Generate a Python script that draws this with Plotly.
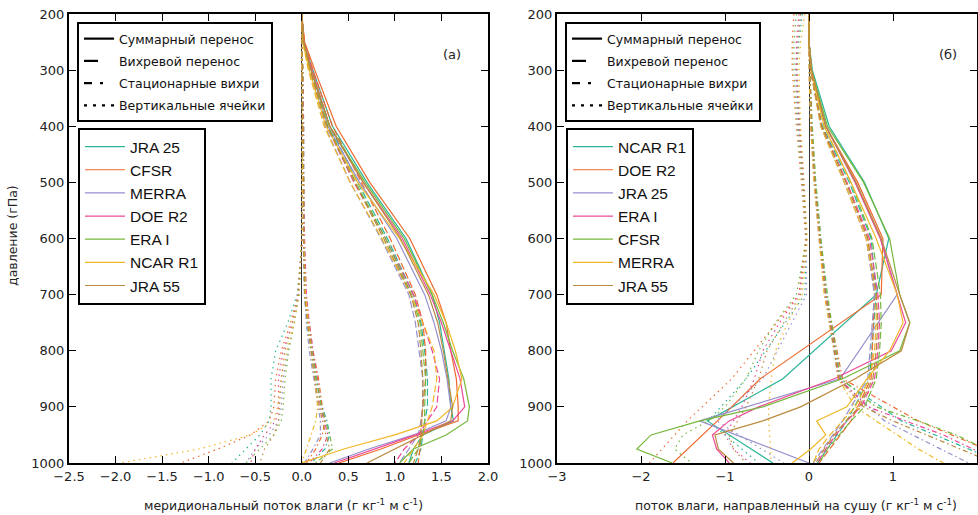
import plotly.graph_objects as go

# Pressure levels (hPa)
P_FINE = [200, 250, 300, 400, 500, 600, 700, 750, 800, 850, 900, 925, 950, 975, 1000]
P_STD = [200, 250, 300, 400, 500, 600, 700, 850, 925, 1000]

# ---------------- panel (а): meridional moisture flux ----------------
A_NAMES = ["JRA 25", "CFSR", "MERRA", "DOE R2", "ERA I", "NCAR R1", "JRA 55"]

A_TOTAL = {
    "JRA 25":  [0.0, 0.02, 0.12, 0.33, 0.70, 1.12, 1.40, 1.48, 1.53, 1.58, 1.60, 1.63, 1.30, 1.20, 1.15],
    "CFSR":    [0.0, 0.03, 0.14, 0.37, 0.73, 1.16, 1.45, 1.55, 1.60, 1.66, 1.68, 1.68, 1.25, 0.85, 0.40],
    "MERRA":   [0.0, 0.02, 0.10, 0.28, 0.62, 1.02, 1.32, 1.42, 1.50, 1.56, 1.60, 1.55, 1.20, 0.72, 0.30],
    "DOE R2":  [0.0, 0.02, 0.11, 0.30, 0.66, 1.08, 1.38, 1.50, 1.60, 1.70, 1.75, 1.62, 1.22, 0.78, 0.35],
    "ERA I":   [0.0, 0.02, 0.10, 0.30, 0.68, 1.10, 1.40, 1.52, 1.62, 1.74, 1.80, 1.78, 1.55, 1.20, 1.05],
    "NCAR R1": [0.0, 0.01, 0.08, 0.26, 0.60, 1.05, 1.42, 1.55, 1.65, 1.72, 1.62, 1.45, 1.00, 0.45, 0.00],
    "JRA 55":  [0.0, 0.02, 0.10, 0.30, 0.66, 1.06, 1.36, 1.46, 1.52, 1.57, 1.62, 1.60, 1.30, 1.00, 0.70],
}
A_EDDY = {
    "JRA 25":  [0.0, 0.02, 0.10, 0.30, 0.60, 0.92, 1.20, 1.28, 1.32, 1.35, 1.35, 1.32, 1.30, 1.28, 1.22],
    "CFSR":    [0.0, 0.03, 0.12, 0.33, 0.64, 0.95, 1.22, 1.30, 1.33, 1.33, 1.30, 1.28, 1.28, 1.27, 1.25],
    "MERRA":   [0.0, 0.02, 0.08, 0.25, 0.52, 0.85, 1.15, 1.22, 1.26, 1.30, 1.30, 1.28, 1.25, 1.15, 1.05],
    "DOE R2":  [0.0, 0.02, 0.09, 0.27, 0.56, 0.90, 1.20, 1.30, 1.40, 1.48, 1.45, 1.35, 1.25, 1.10, 1.00],
    "ERA I":   [0.0, 0.02, 0.09, 0.28, 0.58, 0.90, 1.18, 1.27, 1.30, 1.33, 1.32, 1.32, 1.30, 1.25, 1.15],
    "NCAR R1": [0.0, 0.01, 0.07, 0.24, 0.52, 0.86, 1.17, 1.30, 1.42, 1.45, 1.40, 1.35, 1.30, 1.20, 1.10],
    "JRA 55":  [0.0, 0.02, 0.09, 0.27, 0.57, 0.88, 1.17, 1.25, 1.28, 1.30, 1.30, 1.29, 1.28, 1.25, 1.20],
}
A_STAT = {
    "JRA 25":  [0.0, 0.0, 0.01, 0.02, 0.02, 0.02, 0.03, 0.06, 0.10, 0.15, 0.22, 0.27, 0.30, 0.25, 0.10],
    "CFSR":    [0.0, 0.0, 0.01, 0.01, 0.02, 0.02, 0.04, 0.08, 0.12, 0.18, 0.22, 0.25, 0.22, 0.15, 0.05],
    "MERRA":   [0.0, 0.0, 0.00, 0.01, 0.01, 0.02, 0.03, 0.05, 0.08, 0.13, 0.18, 0.20, 0.20, 0.12, 0.03],
    "DOE R2":  [0.0, 0.0, 0.01, 0.02, 0.02, 0.03, 0.05, 0.08, 0.12, 0.17, 0.20, 0.24, 0.28, 0.22, 0.08],
    "ERA I":   [0.0, 0.0, 0.01, 0.01, 0.02, 0.02, 0.04, 0.07, 0.11, 0.16, 0.21, 0.25, 0.30, 0.33, 0.15],
    "NCAR R1": [0.0, 0.0, 0.00, 0.01, 0.01, 0.02, 0.04, 0.07, 0.10, 0.14, 0.17, 0.15, 0.10, 0.05, 0.00],
    "JRA 55":  [0.0, 0.0, 0.01, 0.01, 0.02, 0.02, 0.03, 0.06, 0.10, 0.14, 0.19, 0.22, 0.26, 0.30, 0.20],
}
A_VERT = {
    "JRA 25":  [0.0, 0.0, 0.0, 0.0, 0.0, 0.01, -0.05, -0.15, -0.28, -0.33, -0.33, -0.35, -0.45, -0.60, -0.75],
    "CFSR":    [0.0, 0.0, 0.0, 0.0, 0.0, 0.00, -0.04, -0.12, -0.22, -0.28, -0.30, -0.35, -0.55, -0.90, -1.30],
    "MERRA":   [0.0, 0.0, 0.0, 0.0, 0.0, 0.00, -0.03, -0.08, -0.15, -0.20, -0.22, -0.25, -0.35, -0.50, -0.60],
    "DOE R2":  [0.0, 0.0, 0.0, 0.0, 0.0, 0.01, -0.04, -0.10, -0.20, -0.25, -0.25, -0.28, -0.40, -0.50, -0.55],
    "ERA I":   [0.0, 0.0, 0.0, 0.0, 0.0, 0.00, -0.03, -0.08, -0.14, -0.18, -0.20, -0.22, -0.30, -0.45, -0.60],
    "NCAR R1": [0.0, 0.0, 0.0, 0.0, 0.0, 0.00, -0.03, -0.08, -0.16, -0.22, -0.26, -0.30, -0.55, -1.10, -1.95],
    "JRA 55":  [0.0, 0.0, 0.0, 0.0, 0.0, 0.00, -0.04, -0.10, -0.18, -0.22, -0.24, -0.25, -0.30, -0.40, -0.45],
}

# ---------------- panel (б): onshore moisture flux ----------------
B_NAMES = ["NCAR R1", "DOE R2", "JRA 25", "ERA I", "CFSR", "MERRA", "JRA 55"]
B_LEVELS = {
    "NCAR R1": P_STD, "DOE R2": P_STD, "JRA 25": P_STD,
    "ERA I": P_FINE, "CFSR": P_FINE, "MERRA": P_FINE, "JRA 55": P_FINE,
}

B_TOTAL = {
    "NCAR R1": [0.0, 0.00, 0.04, 0.24, 0.66, 0.95, 0.80, -0.31, -1.21, -0.43],
    "DOE R2":  [0.0, 0.00, 0.03, 0.20, 0.58, 0.88, 0.86, -0.58, -1.09, -1.62],
    "JRA 25":  [0.0, 0.00, 0.03, 0.20, 0.55, 0.85, 1.05, 0.37, -1.30, 0.00],
    "ERA I":   [0.0, 0.00, 0.03, 0.20, 0.55, 0.85, 1.05, 1.15, 0.98, 0.30, -0.60, -0.95, -1.15, -1.10, -0.95],
    "CFSR":    [0.0, 0.00, 0.03, 0.22, 0.65, 0.96, 1.08, 1.20, 1.08, 0.40, -0.55, -1.30, -1.88, -2.05, -1.63],
    "MERRA":   [0.0, 0.00, 0.02, 0.18, 0.50, 0.80, 1.05, 1.12, 0.96, 0.69, 0.45, 0.09, 0.20, 0.02, -0.20],
    "JRA 55":  [0.0, 0.00, 0.03, 0.20, 0.56, 0.86, 1.08, 1.20, 1.10, 0.55, -0.10, -0.55, -1.12, -1.08, -0.90],
}
B_EDDY = {
    "NCAR R1": [0.0, 0.00, 0.02, 0.16, 0.48, 0.74, 0.80, 0.72, 0.45, 0.10],
    "DOE R2":  [0.0, 0.00, 0.02, 0.15, 0.45, 0.70, 0.78, 0.74, 0.50, 0.12],
    "JRA 25":  [0.0, 0.00, 0.02, 0.14, 0.42, 0.68, 0.78, 0.70, 0.40, 0.05],
    "ERA I":   [0.0, 0.00, 0.02, 0.15, 0.45, 0.72, 0.82, 0.84, 0.82, 0.78, 0.62, 0.45, 0.32, 0.20, 0.10],
    "CFSR":    [0.0, 0.00, 0.03, 0.18, 0.50, 0.75, 0.85, 0.86, 0.84, 0.80, 0.66, 0.50, 0.36, 0.22, 0.12],
    "MERRA":   [0.0, 0.00, 0.02, 0.14, 0.42, 0.68, 0.80, 0.80, 0.78, 0.72, 0.55, 0.40, 0.25, 0.12, 0.05],
    "JRA 55":  [0.0, 0.00, 0.02, 0.15, 0.44, 0.70, 0.80, 0.82, 0.80, 0.76, 0.60, 0.44, 0.30, 0.18, 0.08],
}
B_STAT = {
    "NCAR R1": [0.0, 0.0, 0.01, 0.03, 0.08, 0.14, 0.21, 0.37, 1.10, 2.30],
    "DOE R2":  [0.0, 0.0, 0.01, 0.03, 0.07, 0.13, 0.20, 0.40, 1.30, 2.50],
    "JRA 25":  [0.0, 0.0, 0.00, 0.02, 0.06, 0.12, 0.19, 0.35, 0.90, 1.90],
    "ERA I":   [0.0, 0.0, 0.01, 0.03, 0.07, 0.13, 0.20, 0.26, 0.31, 0.36, 0.70, 1.15, 1.60, 1.95, 2.30],
    "CFSR":    [0.0, 0.0, 0.01, 0.04, 0.08, 0.14, 0.22, 0.27, 0.32, 0.38, 0.80, 1.30, 1.75, 2.10, 2.40],
    "MERRA":   [0.0, 0.0, 0.00, 0.02, 0.06, 0.12, 0.18, 0.24, 0.30, 0.35, 0.55, 0.80, 1.05, 1.30, 1.60],
    "JRA 55":  [0.0, 0.0, 0.01, 0.03, 0.07, 0.13, 0.20, 0.25, 0.30, 0.35, 0.65, 1.00, 1.40, 1.80, 2.20],
}
B_VERT = {
    "NCAR R1": [-0.08, -0.12, -0.15, -0.12, -0.07, -0.03, -0.05, -0.75, -1.20, -0.60],
    "DOE R2":  [-0.18, -0.20, -0.20, -0.15, -0.09, -0.04, -0.12, -0.92, -1.45, -1.90],
    "JRA 25":  [-0.10, -0.14, -0.16, -0.13, -0.07, -0.03, -0.03, -0.55, -1.10, -0.30],
    "ERA I":   [-0.12, -0.15, -0.15, -0.12, -0.07, -0.03, -0.12, -0.35, -0.55, -0.65, -0.80, -0.90, -1.00, -0.90, -0.70],
    "CFSR":    [-0.15, -0.18, -0.18, -0.14, -0.08, -0.03, -0.15, -0.40, -0.60, -0.75, -1.00, -1.20, -1.50, -1.60, -1.40],
    "MERRA":   [-0.05, -0.10, -0.12, -0.10, -0.06, -0.02, -0.08, -0.25, -0.40, -0.45, -0.48, -0.48, -0.47, -0.46, -0.45],
    "JRA 55":  [-0.10, -0.13, -0.14, -0.11, -0.06, -0.03, -0.10, -0.30, -0.50, -0.60, -0.75, -0.85, -0.95, -0.90, -0.75],
}

A_XTICKS = [-2.5, -2.0, -1.5, -1.0, -0.5, 0.0, 0.5, 1.0, 1.5, 2.0]
B_XTICKS = [-3, -2, -1, 0, 1, 2]
P_TICKS = [200, 300, 400, 500, 600, 700, 800, 900, 1000]

COMPONENT_LABELS = ["Суммарный перенос", "Вихревой перенос", "Стационарные вихри", "Вертикальные ячейки"]

# ---------------- styling ----------------
W, H = 978, 515
PALETTE = ["#2bb598", "#ee6a2e", "#9690cc", "#ec4a98", "#74b83c", "#f0b82a", "#bb8a3e"]
DATA_DASH = ["solid", "7px,3px", "5px,3px,1.5px,3px", "1.5px,4px"]
KEY_DASH = ["solid", "14px,30px", "8px,8px,3px,30px", "3px,6px"]
TICK_FONT = dict(family="DejaVu Sans", size=13, color="#222222")
TEXT_FONT = "DejaVu Sans"


def px_x(v):
    return v / W


def px_y(v):
    return 1 - v / H


fig = go.Figure()


def add_panel(names, levels_map, total, eddy, stat, vert, xa, ya, key_legend, data_legend):
    # black keys for the four flux components
    for label, dash in zip(COMPONENT_LABELS, KEY_DASH):
        fig.add_trace(go.Scatter(
            x=[None], y=[None], mode="lines", name=label,
            line=dict(color="black", width=2.2, dash=dash),
            legend=key_legend, legendgroup=f"{key_legend}-{label}",
            xaxis=xa, yaxis=ya, hoverinfo="skip",
        ))
    for i, name in enumerate(names):
        color = PALETTE[i]
        levels = levels_map[name]
        for k, comp in enumerate([total, eddy, stat, vert]):
            fig.add_trace(go.Scatter(
                x=comp[name], y=levels, mode="lines", name=name,
                line=dict(color=color, width=1.2, dash=DATA_DASH[k]),
                legend=data_legend, legendgroup=f"{data_legend}-{name}",
                showlegend=(k == 0), xaxis=xa, yaxis=ya,
            ))


add_panel(A_NAMES, {n: P_FINE for n in A_NAMES}, A_TOTAL, A_EDDY, A_STAT, A_VERT,
          "x", "y", "legend", "legend2")
add_panel(B_NAMES, B_LEVELS, B_TOTAL, B_EDDY, B_STAT, B_VERT,
          "x2", "y2", "legend3", "legend4")

y_dom = [px_y(463), px_y(14)]


def x_axis(dom, rng, ticks, fmt, anchor):
    return dict(
        domain=dom, range=rng, tickvals=ticks, tickformat=fmt, anchor=anchor,
        showgrid=False, zeroline=True, zerolinecolor="#333333", zerolinewidth=1.3,
        showline=True, linecolor="black", linewidth=2, mirror="allticks",
        ticks="inside", ticklen=7, tickwidth=1.3, tickcolor="black",
        tickfont=TICK_FONT, automargin=False,
    )


def y_axis(anchor):
    return dict(
        domain=y_dom, range=[1000, 200], tickvals=P_TICKS, anchor=anchor,
        showgrid=False, zeroline=False,
        showline=True, linecolor="black", linewidth=2, mirror="allticks",
        ticks="inside", ticklen=7, tickwidth=1.3, tickcolor="black",
        tickfont=TICK_FONT, automargin=False,
    )


def key_legend(x0, y0):
    return dict(
        x=px_x(x0), y=px_y(y0), xanchor="left", yanchor="top",
        bgcolor="white", bordercolor="black", borderwidth=2,
        font=dict(family=TEXT_FONT, size=12.5, color="#111111"),
        tracegroupgap=3, itemwidth=30,
    )


def data_legend(x0, y0):
    return dict(
        x=px_x(x0), y=px_y(y0), xanchor="left", yanchor="top",
        bgcolor="white", bordercolor="black", borderwidth=2,
        font=dict(family="Liberation Sans", size=15.5, color="#111111"),
        tracegroupgap=0, itemwidth=40,
    )


def note(text, x, y, size=12.5, angle=0):
    return dict(text=text, x=px_x(x), y=px_y(y), xref="paper", yref="paper",
                xanchor="center", yanchor="middle", textangle=angle, showarrow=False,
                font=dict(family=TEXT_FONT, size=size, color="#222222"))


fig.update_layout(
    width=W, height=H,
    margin=dict(l=0, r=0, t=0, b=0),
    paper_bgcolor="white", plot_bgcolor="white",
    xaxis=x_axis([px_x(69), px_x(488)], [-2.5, 2.0], A_XTICKS, ".1f", "y"),
    yaxis=y_axis("x"),
    xaxis2=x_axis([px_x(557), px_x(977)], [-3, 2], B_XTICKS, "d", "y2"),
    yaxis2=y_axis("x2"),
    legend=key_legend(77, 22),
    legend2=data_legend(78, 128),
    legend3=key_legend(565, 22),
    legend4=data_legend(566, 128),
    showlegend=True,
    annotations=[
        note("(а)", 452, 55, 13),
        note("(б)", 948, 55, 13),
        note("давление (гПа)", 12, 236, 12.5, -90),
        note("меридиональный поток влаги (г кг<sup>-1</sup> м с<sup>-1</sup>)", 283, 505),
        note("поток влаги, направленный на сушу (г кг<sup>-1</sup> м с<sup>-1</sup>)", 796, 505),
    ],
)

fig.write_html("out.html")
